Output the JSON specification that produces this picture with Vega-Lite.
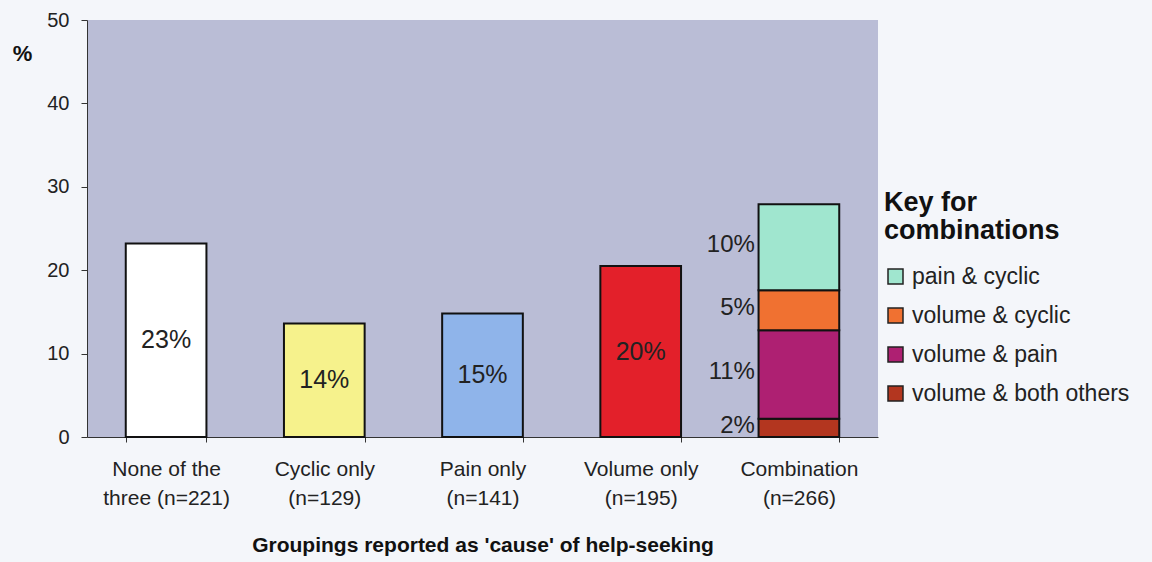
{
  "$schema": "https://vega.github.io/schema/vega-lite/v6.json",
  "width": 791,
  "height": 417,
  "autosize": {"type": "none"},
  "padding": {"left": 87, "top": 20, "right": 274, "bottom": 125},
  "background": "#f4f6fa",
  "config": {
    "font": "Liberation Sans",
    "view": {"fill": "#babdd6", "stroke": null}
  },
  "data": {
    "values": [
      {"group": "None of the three (n=221)", "part": "None of the three", "value": 23.2, "label": "23%"},
      {"group": "Cyclic only (n=129)", "part": "Cyclic only", "value": 13.6, "label": "14%"},
      {"group": "Pain only (n=141)", "part": "Pain only", "value": 14.8, "label": "15%"},
      {"group": "Volume only (n=195)", "part": "Volume only", "value": 20.5, "label": "20%"},
      {"group": "Combination (n=266)", "part": "volume & both others", "value": 2.2, "label": "2%"},
      {"group": "Combination (n=266)", "part": "volume & pain", "value": 10.6, "label": "11%"},
      {"group": "Combination (n=266)", "part": "volume & cyclic", "value": 4.8, "label": "5%"},
      {"group": "Combination (n=266)", "part": "pain & cyclic", "value": 10.3, "label": "10%"}
    ]
  },
  "transform": [{"window": [{"op": "row_number", "as": "row"}]}],
  "encoding": {
    "x": {
      "field": "group",
      "type": "nominal",
      "sort": null,
      "scale": {"paddingInner": 0.49, "paddingOuter": 0.245},
      "axis": {
        "title": "Groupings reported as 'cause' of help-seeking",
        "titleFontSize": 21,
        "titleFontWeight": "bold",
        "titleColor": "#111",
        "titlePadding": 26,
        "labelAngle": 0,
        "labelFontSize": 21,
        "labelColor": "#222",
        "labelLineHeight": 29,
        "labelPadding": 16,
        "labelLimit": 200,
        "labelExpr": "datum.label == 'None of the three (n=221)' ? ['None of the', 'three (n=221)'] : split(replace(datum.label, ' (', '|('), '|')",
        "tickBand": "extent",
        "domainColor": "#333",
        "tickColor": "#333",
        "tickSize": 5
      }
    }
  },
  "layer": [
    {
      "mark": {"type": "bar", "stroke": "#111", "strokeWidth": 2},
      "encoding": {
        "y": {
          "field": "value",
          "type": "quantitative",
          "stack": "zero",
          "scale": {"domain": [0, 50]},
          "axis": {
            "values": [0, 10, 20, 30, 40, 50],
            "grid": false,
            "title": "%",
            "titleAngle": 0,
            "titleX": -65,
            "titleY": 33,
            "titleAlign": "center",
            "titleBaseline": "middle",
            "titleFontSize": 22,
            "titleFontWeight": "bold",
            "titleColor": "#111",
            "labelFontSize": 20,
            "labelColor": "#222",
            "labelPadding": 12,
            "domainColor": "#333",
            "tickColor": "#333",
            "tickSize": 6
          }
        },
        "color": {
          "field": "part",
          "type": "nominal",
          "scale": {
            "domain": ["None of the three", "Cyclic only", "Pain only", "Volume only", "pain & cyclic", "volume & cyclic", "volume & pain", "volume & both others"],
            "range": ["#ffffff", "#f6f28c", "#8fb4ea", "#e3202a", "#a0e6cf", "#f07131", "#ae2072", "#b3361f"]
          },
          "legend": {
            "values": ["pain & cyclic", "volume & cyclic", "volume & pain", "volume & both others"],
            "title": ["Key for", "combinations"],
            "orient": "none",
            "legendX": 797,
            "legendY": 170,
            "titleFontSize": 27,
            "titleFontWeight": "bold",
            "titleColor": "#111",
            "titleLineHeight": 28,
            "titlePadding": 20,
            "titleLimit": 400,
            "labelFontSize": 23,
            "labelColor": "#222",
            "labelOffset": 5,
            "labelLimit": 400,
            "symbolType": "square",
            "symbolSize": 225,
            "symbolStrokeColor": "#222",
            "symbolStrokeWidth": 1.5,
            "rowPadding": 15
          }
        },
        "order": {"field": "row", "type": "quantitative"}
      }
    },
    {
      "transform": [{"filter": "datum.group != 'Combination (n=266)'"}],
      "mark": {"type": "text", "fontSize": 25, "color": "#222"},
      "encoding": {
        "y": {"field": "value", "type": "quantitative", "stack": "zero", "bandPosition": 0.5},
        "text": {"field": "label"}
      }
    },
    {
      "transform": [{"filter": "datum.group == 'Combination (n=266)'"}],
      "mark": {"type": "text", "fontSize": 24, "color": "#222", "align": "right", "dx": -44, "dy": -2},
      "encoding": {
        "y": {"field": "value", "type": "quantitative", "stack": "zero", "bandPosition": 0.5},
        "detail": {"field": "part"},
        "order": {"field": "row", "type": "quantitative"},
        "text": {"field": "label"}
      }
    }
  ]
}
